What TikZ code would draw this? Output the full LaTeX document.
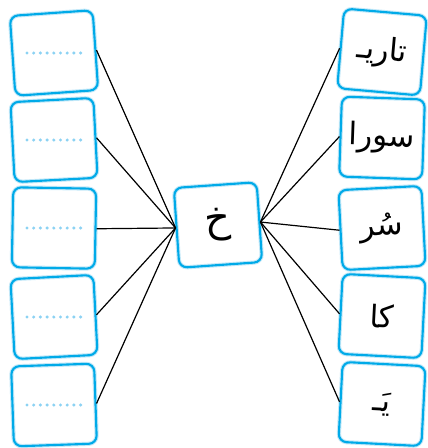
\documentclass[tikz,border=0pt]{standalone}
\usepackage{fontspec}
\newfontfamily\arabicfont[Script=Arabic]{DejaVu Sans}
\TeXXeTstate=1
\definecolor{tilecyan}{RGB}{0,170,232}
\definecolor{tilehaze}{RGB}{195,232,248}
\definecolor{dotcyan}{RGB}{140,210,243}
\tikzset{
  tile/.style={draw=tilecyan, line width=2.1pt, rounded corners=8pt,
    minimum width=83pt, minimum height=80pt, inner sep=0pt,
    font=\arabicfont\fontsize{31}{36}\selectfont,
    preaction={draw=tilehaze, line width=4.2pt}},
  link/.style={line width=1.2pt},
  dotrow/.style={draw=dotcyan, line width=3.4pt, line cap=round, dash pattern=on 0pt off 6.7pt}
}
\begin{document}
\begin{tikzpicture}[x=1pt, y=-1pt]
    \useasboundingbox (0,0) rectangle (428,448);
    % empty tiles on the left
    \node[tile, rotate=4]  (blank1) at (54,53)  {};
    \node[tile, rotate=3]  (blank2) at (54,140) {};
    \node[tile, rotate=-1] (blank3) at (54,228) {};
    \node[tile, rotate=3]  (blank4) at (54,317) {};
    \node[tile, rotate=2]  (blank5) at (54,405) {};
    \foreach \i in {1,...,5}
        \draw[dotrow] ([xshift=-27pt]blank\i.center) -- ([xshift=27pt]blank\i.center);
    % middle tile
    \node[tile, rotate=4, font=\arabicfont\fontsize{40}{44}\selectfont] (hub) at (218,225) {\beginR خ\endR};
    % syllable tiles on the right
    \node[tile, rotate=-5] (syl1) at (382,52)  {\beginR تاریـ\endR};
    \node[tile, rotate=-2] (syl2) at (382,138) {\beginR سورا\endR};
    \node[tile, rotate=3]  (syl3) at (382,228) {\beginR سُر\endR};
    \node[tile, rotate=-3] (syl4) at (382,316) {\beginR کا\endR};
    \node[tile, rotate=-3] (syl5) at (382,404) {\beginR يَـ\endR};
    % links
    \foreach \i in {1,...,5} {
        \draw[link] (blank\i.east) -- (hub.west);
        \draw[link] (hub.east) -- (syl\i.west);
    }
\end{tikzpicture}
\end{document}
